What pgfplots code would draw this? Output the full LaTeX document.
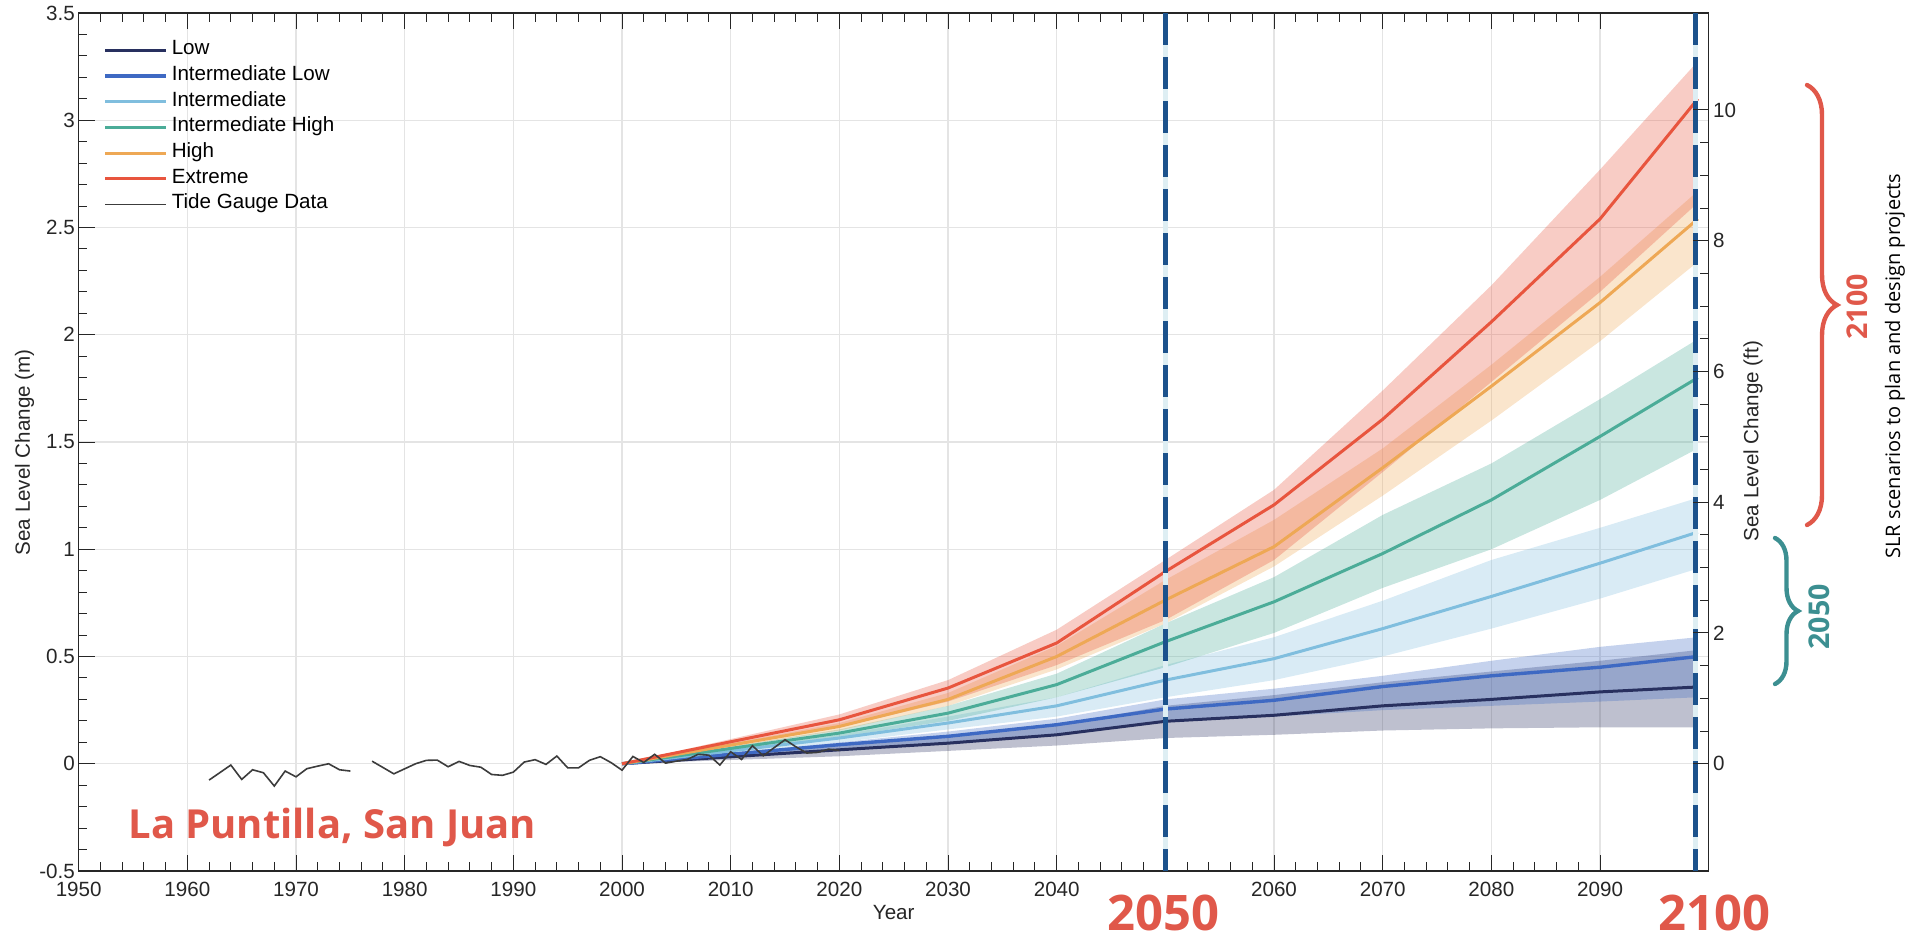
\documentclass[border=0pt]{standalone}
\usepackage{fontspec}
\setmainfont{Liberation Sans}
\newfontfamily\os{Open Sans}
\usepackage{pgfplots}
\pgfplotsset{compat=1.18}
\usepackage{pgfplotstable}
\usepgfplotslibrary{fillbetween}
\usetikzlibrary{decorations.pathreplacing}

\definecolor{cLow}{RGB}{40,48,95}
\definecolor{cIL}{RGB}{62,105,195}
\definecolor{cInt}{RGB}{128,190,222}
\definecolor{cIH}{RGB}{75,172,152}
\definecolor{cHigh}{RGB}{238,168,85}
\definecolor{cExt}{RGB}{232,85,62}
\definecolor{cTide}{RGB}{60,60,60}
\definecolor{cDash}{RGB}{28,82,140}
\definecolor{cDashLight}{RGB}{222,238,243}
\definecolor{cRed}{RGB}{224,88,74}
\definecolor{cTeal}{RGB}{60,143,145}
\definecolor{cGrid}{RGB}{228,228,228}
\definecolor{cAx}{RGB}{38,38,38}

\newcommand\mfont{\fontsize{10.3pt}{12pt}\selectfont}

% projections: year, lower bound, central, upper bound (m)
\pgfplotstableread{
yr lo mid hi
2000 0 0 0
2020 0.035 0.065 0.085
2030 0.06 0.096 0.13
2040 0.085 0.135 0.18
2050 0.12 0.198 0.27
2060 0.135 0.226 0.32
2070 0.155 0.27 0.38
2080 0.165 0.30 0.43
2090 0.17 0.335 0.48
2099 0.17 0.358 0.53
}\lowT
\pgfplotstableread{
yr lo mid hi
2000 0 0 0
2020 0.07 0.089 0.10
2030 0.10 0.128 0.15
2040 0.14 0.182 0.21
2050 0.20 0.255 0.30
2060 0.22 0.296 0.35
2070 0.25 0.36 0.41
2080 0.27 0.41 0.48
2090 0.29 0.45 0.545
2099 0.31 0.50 0.59
}\ilT
\pgfplotstableread{
yr lo mid hi
2000 0 0 0
2020 0.10 0.12 0.135
2030 0.16 0.19 0.22
2040 0.22 0.27 0.31
2050 0.31 0.39 0.46
2060 0.39 0.49 0.59
2070 0.50 0.63 0.76
2080 0.63 0.78 0.95
2090 0.77 0.935 1.10
2099 0.91 1.08 1.24
}\intT
\pgfplotstableread{
yr lo mid hi
2000 0 0 0
2020 0.125 0.143 0.16
2030 0.20 0.236 0.27
2040 0.31 0.369 0.42
2050 0.45 0.569 0.654
2060 0.61 0.755 0.87
2070 0.82 0.98 1.16
2080 1.00 1.23 1.40
2090 1.23 1.526 1.70
2099 1.47 1.80 1.98
}\ihT
\pgfplotstableread{
yr lo mid hi
2000 0 0 0
2020 0.155 0.174 0.19
2030 0.27 0.30 0.33
2040 0.44 0.50 0.55
2050 0.654 0.763 0.857
2060 0.92 1.012 1.137
2070 1.25 1.38 1.47
2080 1.60 1.76 1.86
2090 1.97 2.15 2.27
2099 2.34 2.54 2.67
}\highT
\pgfplotstableread{
yr lo mid hi
2000 0 0 0
2020 0.17 0.205 0.23
2030 0.29 0.353 0.39
2040 0.46 0.563 0.625
2050 0.67 0.896 0.95
2060 0.95 1.207 1.277
2070 1.36 1.606 1.74
2080 1.78 2.06 2.23
2090 2.20 2.54 2.77
2099 2.615 3.10 3.275
}\extT
\pgfplotstableread{
yr slc
1962 -0.076
1964 -0.006
1965 -0.073
1966 -0.028
1967 -0.042
1968 -0.104
1969 -0.034
1970 -0.061
1971 -0.023
1972 -0.011
1973 0.000
1974 -0.028
1975 -0.034
1976 nan
1977 0.012
1979 -0.047
1981 0.000
1982 0.016
1983 0.017
1984 -0.014
1985 0.011
1986 -0.008
1987 -0.016
1988 -0.050
1989 -0.054
1990 -0.039
1991 0.008
1992 0.019
1993 -0.003
1994 0.036
1995 -0.019
1996 -0.019
1997 0.016
1998 0.033
1999 0.005
2000 -0.030
2001 0.034
2002 0.006
2003 0.044
2004 0.003
2005 0.012
2006 0.020
2007 0.044
2008 0.040
2009 -0.006
2010 0.056
2011 0.020
2012 0.084
2013 0.037
2014 0.075
2015 0.112
2016 0.079
2017 0.050
2018 0.053
2019 0.068
2020 0.062
}\tideT

\newcommand\band[3]{%
  \addplot[name path=#2u, draw=none, forget plot] table[x=yr,y=hi]{#1};
  \addplot[name path=#2l, draw=none, forget plot] table[x=yr,y=lo]{#1};
  \addplot[fill=#3, fill opacity=0.3, draw=none, forget plot] fill between[of=#2u and #2l];
}

\begin{document}
\begin{tikzpicture}
\begin{axis}[
  scale only axis, width=815pt, height=429pt,
  at={(39.35pt,34pt)}, anchor=south west,
  xmin=1950, xmax=2100, ymin=-0.5, ymax=3.5,
  xtick={1950,1960,...,2090}, minor x tick num=4,
  xticklabels={1950,1960,1970,1980,1990,2000,2010,2020,2030,2040,,2060,2070,2080,2090},
  ytick={-0.5,0,...,3.5}, minor y tick num=4,
  ytick pos=left, tick align=inside,
  major tick length=8pt, minor tick length=4.3pt,
  every tick/.style={cAx, line width=0.5pt},
  axis line style={cAx, line width=0.6pt},
  grid=major, major grid style={cGrid, line width=0.6pt},
  /pgf/number format/1000 sep={},
  /pgf/number format/assume math mode=true,
  tick label style={font=\mfont, text=cAx},
  xticklabel style={yshift=-1.9pt},
  yticklabel style={xshift=1.6pt},
  xlabel={Year}, ylabel={Sea Level Change (m)},
  label style={font=\mfont, text=cAx},
  xlabel style={at={(axis description cs:0.5,-0.0478)}, anchor=center},
  ylabel style={at={(axis description cs:-0.0333,0.488)}, anchor=center},
  title={La Puntilla, San Juan},
  title style={font=\mfont\bfseries, at={(axis description cs:0.5,1)}, anchor=base, yshift=4pt},
  legend style={draw=none, fill=none, at={(axis description cs:0.0149,0.9718)}, anchor=north west,
    inner sep=0pt, row sep=0pt, font=\mfont,
    nodes={inner sep=0pt, text height=8.6pt, text depth=4.25pt, anchor=west}},
  legend cell align=left,
  legend image code/.code={\draw[#1] (0pt,0pt) -- (30.5pt,0pt);},
  /tikz/every odd column/.append style={column sep=2pt},
  unbounded coords=jump,
]
\band{\lowT}{lw}{cLow}
\band{\ilT}{il}{cIL}
\band{\intT}{im}{cInt}
\band{\ihT}{ih}{cIH}
\band{\highT}{hg}{cHigh}
\band{\extT}{ex}{cExt}

\addplot[cLow, line width=1.5pt] table[x=yr,y=mid]{\lowT};
\addlegendentry{Low}
\addplot[cIL, line width=1.7pt] table[x=yr,y=mid]{\ilT};
\addlegendentry{Intermediate Low}
\addplot[cInt, line width=1.5pt] table[x=yr,y=mid]{\intT};
\addlegendentry{Intermediate}
\addplot[cIH, line width=1.5pt] table[x=yr,y=mid]{\ihT};
\addlegendentry{Intermediate High}
\addplot[cHigh, line width=1.5pt] table[x=yr,y=mid]{\highT};
\addlegendentry{High}
\addplot[cExt, line width=1.5pt] table[x=yr,y=mid]{\extT};
\addlegendentry{Extreme}
\addplot[cTide, line width=0.8pt] table[x=yr,y=slc]{\tideT};
\addlegendentry{Tide Gauge Data}

\draw[cDashLight, line width=2.4pt] (axis cs:2050,3.5) -- (axis cs:2050,-0.5);
\draw[cDash, line width=2.4pt, dash pattern=on 16pt off 6pt] (axis cs:2050,3.5) -- (axis cs:2050,-0.5);
\draw[cDashLight, line width=2.4pt] (axis cs:2098.8,3.5) -- (axis cs:2098.8,-0.5);
\draw[cDash, line width=2.4pt, dash pattern=on 16pt off 6pt] (axis cs:2098.8,3.5) -- (axis cs:2098.8,-0.5);
\end{axis}

\begin{axis}[
  scale only axis, width=815pt, height=429pt,
  at={(39.35pt,34pt)}, anchor=south west,
  xmin=1950, xmax=2100, ymin=-1.64042, ymax=11.48294,
  hide x axis, axis y line*=right,
  ytick={0,2,...,10}, minor y tick num=3, tick align=inside,
  major tick length=8pt, minor tick length=4.3pt,
  every tick/.style={cAx, line width=0.5pt},
  axis line style={cAx, line width=0.6pt},
  /pgf/number format/assume math mode=true,
  tick label style={font=\mfont, text=cAx},
  yticklabel style={xshift=-1.3pt},
  ylabel={Sea Level Change (ft)},
  label style={font=\mfont, text=cAx},
  ylabel style={at={(axis description cs:1.0272,0.501)}, anchor=center},
]
\addplot[draw=none] coordinates {(1950,0) (2100,0)};
\end{axis}

\begin{scope}[x=0.5pt, y=-0.5pt, shift={(0pt,469.5pt)}]
\node[anchor=base west, text=cRed, font=\os\bfseries\fontsize{20pt}{24pt}\selectfont, inner sep=0pt] at (128,838) {La Puntilla, San Juan};
\node[anchor=base, text=cRed, font=\os\bfseries\fontsize{24.5pt}{28pt}\selectfont, inner sep=0pt, text depth=0pt] at (1163,930) {2050};
\node[anchor=base, text=cRed, font=\os\bfseries\fontsize{24.5pt}{28pt}\selectfont, inner sep=0pt, text depth=0pt] at (1714,930) {2100};
\node[rotate=90, text=cRed, font=\os\bfseries\fontsize{14.3pt}{16pt}\selectfont, inner sep=0pt] at (1857,307) {2100};
\node[rotate=90, text=cTeal, font=\os\bfseries\fontsize{14.3pt}{16pt}\selectfont, inner sep=0pt] at (1819,617) {2050};
\node[rotate=90, font=\os\fontsize{10pt}{12pt}\selectfont, inner sep=0pt] at (1895,366) {SLR scenarios to plan and design projects};
\draw[cRed, line width=2.2pt, line cap=round, decorate, decoration={brace, amplitude=15pt}] (1807,85) -- (1807,525);
\draw[cTeal, line width=2.2pt, line cap=round, decorate, decoration={brace, amplitude=11.5pt}] (1775,538) -- (1775,684);
\end{scope}
\pgfresetboundingbox
\useasboundingbox (0,0) rectangle (957.5pt,469.5pt);
\end{tikzpicture}
\end{document}
